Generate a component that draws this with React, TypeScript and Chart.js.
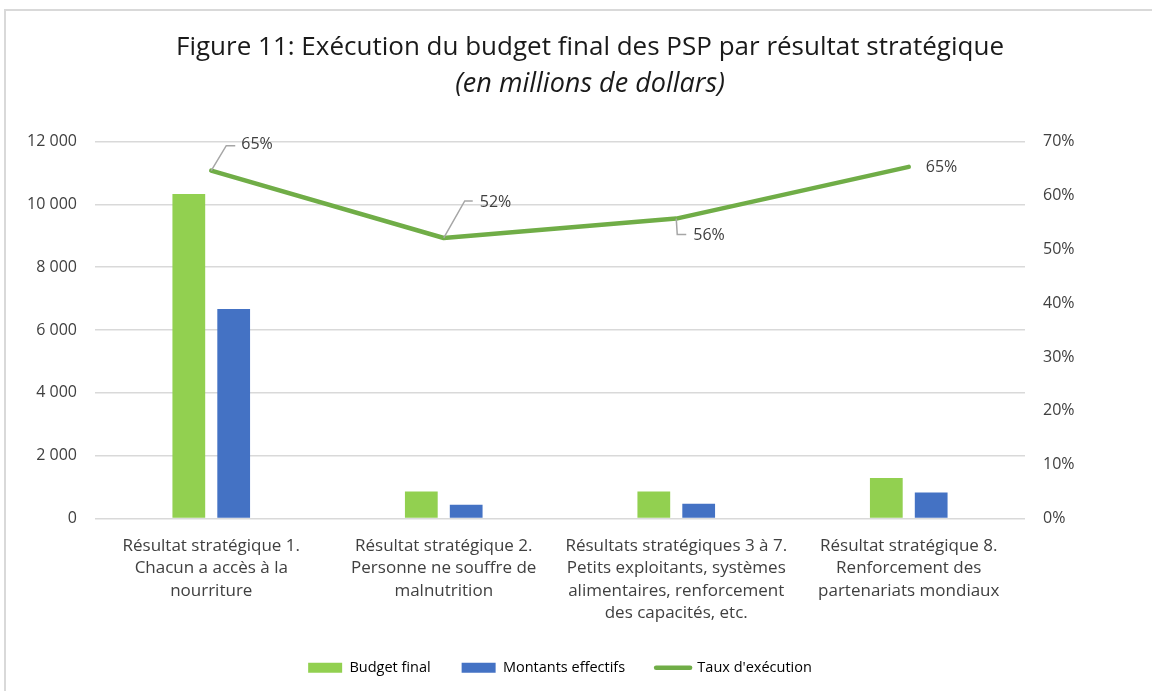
import React, { useEffect, useRef } from "react";
import { Chart, registerables } from "chart.js";

Chart.register(...registerables);

const categories: string[][] = [
  ["Résultat stratégique 1.", "Chacun a accès à la", "nourriture"],
  ["Résultat stratégique 2.", "Personne ne souffre de", "malnutrition"],
  ["Résultats stratégiques 3 à 7.", "Petits exploitants, systèmes", "alimentaires, renforcement", "des capacités, etc."],
  ["Résultat stratégique 8.", "Renforcement des", "partenariats mondiaux"],
];
const budgetFinal = [10330, 860, 860, 1290];
const montantsEffectifs = [6670, 440, 470, 830];
const tauxExecution = [0.646, 0.521, 0.557, 0.653];
const seriesNames = ["Budget final", "Montants effectifs", "Taux d'exécution"];

const GREEN_BAR = "#92D050";
const BLUE_BAR = "#4472C4";
const GREEN_LINE = "#70AD47";
const GRID = "#D9D9D9";
const TICK = "#404040";
const FONT = "'Open Sans', 'Noto Sans', sans-serif";

// label placement style for each line point: leader corner, leader end, text anchor (relative offsets)
const labelStyles = [
  { corner: [15, -25], end: [24, -25], text: [30, -26] },
  { corner: [21, -37], end: [29, -37], text: [36, -36] },
  { corner: [1, 16], end: [10, 16], text: [17, 17] },
  { corner: null, end: null, text: [17, 1] },
];

const fmtThousands = (v: number) => String(v).replace(/\B(?=(\d{3})+(?!\d))/g, " ");

const lineLabelsPlugin = {
  id: "lineLabels",
  afterDatasetsDraw(chart: any) {
    const meta = chart.getDatasetMeta(2);
    const ctx = chart.ctx;
    ctx.save();
    meta.data.forEach((pt: any, i: number) => {
      const s = labelStyles[i];
      const x = pt.x;
      const y = pt.y;
      if (s.corner && s.end) {
        ctx.beginPath();
        ctx.strokeStyle = "#A6A6A6";
        ctx.lineWidth = 1.5;
        ctx.moveTo(x, y);
        ctx.lineTo(x + s.corner[0], y + s.corner[1]);
        ctx.lineTo(x + s.end[0], y + s.end[1]);
        ctx.stroke();
      }
      ctx.fillStyle = "#404040";
      ctx.font = `16px ${FONT}`;
      ctx.textAlign = "left";
      ctx.textBaseline = "middle";
      ctx.fillText(Math.round(tauxExecution[i] * 100) + "%", x + s.text[0], y + s.text[1]);
    });
    ctx.restore();
  },
};

export default function App() {
  const ref = useRef<HTMLCanvasElement | null>(null);

  useEffect(() => {
    if (!ref.current) return;
    const chart = new Chart(ref.current, {
      type: "bar",
      data: {
        labels: categories,
        datasets: [
          {
            type: "bar",
            label: seriesNames[0],
            data: budgetFinal,
            backgroundColor: GREEN_BAR,
            borderWidth: 0,
            yAxisID: "y",
            barPercentage: 0.73,
            categoryPercentage: 0.386,
          },
          {
            type: "bar",
            label: seriesNames[1],
            data: montantsEffectifs,
            backgroundColor: BLUE_BAR,
            borderWidth: 0,
            yAxisID: "y",
            barPercentage: 0.73,
            categoryPercentage: 0.386,
          },
          {
            type: "line",
            label: seriesNames[2],
            data: tauxExecution,
            borderColor: GREEN_LINE,
            backgroundColor: GREEN_LINE,
            borderWidth: 4.5,
            pointRadius: 0,
            tension: 0,
            yAxisID: "y1",
            borderCapStyle: "round",
            borderJoinStyle: "round",
          } as any,
        ],
      },
      options: {
        responsive: false,
        animation: false,
        devicePixelRatio: 1,
        layout: { padding: { top: 0, bottom: 6, left: 28, right: 0 } },
        plugins: {
          tooltip: { enabled: false },
          title: {
            display: true,
            text: "Figure 11: Exécution du budget final des PSP par résultat stratégique",
            color: "#1A1A1A",
            font: { family: FONT, size: 26, weight: "normal", lineHeight: 1.2 },
            padding: { top: 32, bottom: 5 },
          },
          subtitle: {
            display: true,
            text: "(en millions de dollars)",
            color: "#1A1A1A",
            font: { family: FONT, size: 27, style: "italic", weight: "normal", lineHeight: 1.2 },
            padding: { top: 0, bottom: 41 },
          },
          legend: {
            display: true,
            position: "bottom",
            fullSize: false,
            labels: {
              usePointStyle: true,
              pointStyleWidth: 34,
              boxHeight: 10,
              padding: 31,
              color: "#404040",
              font: { family: FONT, size: 14.5 },
              generateLabels: () => [
                { text: seriesNames[0], fillStyle: GREEN_BAR, strokeStyle: GREEN_BAR, lineWidth: 0, pointStyle: "rect", datasetIndex: 0, hidden: false },
                { text: seriesNames[1], fillStyle: BLUE_BAR, strokeStyle: BLUE_BAR, lineWidth: 0, pointStyle: "rect", datasetIndex: 1, hidden: false },
                { text: seriesNames[2], fillStyle: GREEN_LINE, strokeStyle: GREEN_LINE, lineWidth: 4.5, lineCap: "round", pointStyle: "line", datasetIndex: 2, hidden: false },
              ] as any,
            },
          },
        },
        scales: {
          x: {
            grid: { display: false, drawTicks: false },
            border: { display: false },
            ticks: {
              color: TICK,
              font: { family: FONT, size: 17, lineHeight: 1.3 },
              maxRotation: 0,
              autoSkip: false,
              padding: 17,
            },
            afterFit: (scale: any) => {
              scale.height = 111;
            },
          },
          y: {
            position: "left",
            min: 0,
            max: 12000,
            ticks: {
              stepSize: 2000,
              color: TICK,
              font: { family: FONT, size: 16 },
              padding: 18,
              callback: (v: any) => fmtThousands(Number(v)),
            },
            grid: { color: GRID, lineWidth: 1.5, drawTicks: false },
            border: { display: false },
            afterFit: (scale: any) => {
              scale.width = 67;
            },
          },
          y1: {
            position: "right",
            min: 0,
            max: 0.7,
            ticks: {
              stepSize: 0.1,
              color: TICK,
              font: { family: FONT, size: 16 },
              padding: 18,
              callback: (v: any) => Math.round(Number(v) * 100) + "%",
            },
            grid: { display: false, drawTicks: false },
            border: { display: false },
            afterFit: (scale: any) => {
              scale.width = 127;
            },
          },
        },
      } as any,
      plugins: [lineLabelsPlugin],
    });
    return () => chart.destroy();
  }, []);

  return (
    <div style={{ position: "absolute", left: 0, top: 0, width: 1152, height: 691, overflow: "hidden", background: "#fff" }}>
      <div
        style={{
          position: "absolute",
          left: 4,
          top: 9,
          width: 1300,
          height: 900,
          border: `2px solid ${GRID}`,
          boxSizing: "border-box",
        }}
      />
      <canvas ref={ref} width={1152} height={691} style={{ position: "absolute", left: 0, top: 0 }} />
    </div>
  );
}
